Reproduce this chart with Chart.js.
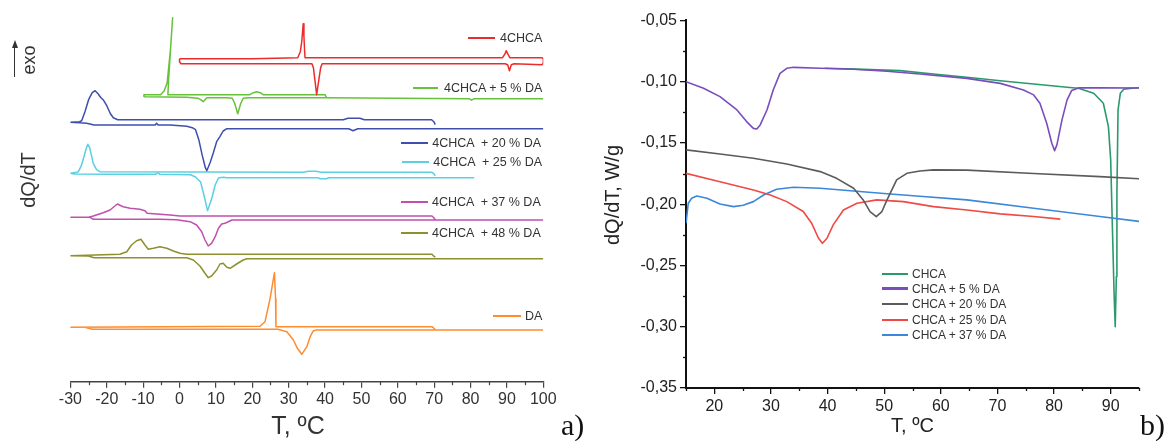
<!DOCTYPE html>
<html>
<head>
<meta charset="utf-8">
<script src="https://cdn.jsdelivr.net/npm/chart.js@4.4.1/dist/chart.umd.min.js"></script>
<style>
  html, body { margin:0; padding:0; background:#fff; }
  #wrap { position:relative; width:1168px; height:441px; overflow:hidden; font-family:"Liberation Sans", Arial, sans-serif; color:#222; }
  canvas { position:absolute; top:0; }
  #cL { left:0; }
  #cR { left:585px; }
  .t { position:absolute; white-space:pre; line-height:1; }
  .lg { position:absolute; height:2px; }
</style>
</head>
<body>
<div id="wrap">
  <canvas id="cL" width="585" height="441"></canvas>
  <canvas id="cR" width="583" height="441"></canvas>
</div>
<script>
// ---------- Panel a) : DSC loops, arbitrary units, T in °C ----------
const leftTicksT = [-30,-20,-10,0,10,20,30,40,50,60,70,80,90,100];
const leftMinorT = [-25,-15,-5,5,15,25,35,45,55,65,75,85,95];

const a4CHCA_T = [0,20,32.5,33.2,33.6,34.0,34.2,34.4,34.5,60,88.8,89.5,89.8,90.2,90.8,99.6,100,100,99.6,92,91.2,90.7,90.2,89.5,60,39.2,38.8,38.3,37.7,37.2,36.8,36.4,20,0.4,0,0];
const a4CHCA_Q = [323,323,324,330,340,358,345,330,324,324,324,328,331,328,324,324,323,318,317,318,317,311,317,318,318,318,314,302,287,302,314,318,318,318,320,323];

const a5DA_T = [100,81,80.3,79.6,40,19,17.5,16.8,16.0,15.2,14.5,13,7.5,7.0,6.5,5.8,5,2,-9.5,-9.8,-9.8,-6,-5.2,-4.2,-3.4,-2.5,-1.9,-2.3,-3.0,-3.2,10,19.3,20.3,21.2,22.2,23.0,40,40.4];
const a5DA_Q = [283,283,281.5,283,284,284,283.5,278,268,278,283.5,284,284,282,280,282,283.5,284.5,285,285.5,287,287,287,291,299,332,364,342,302,287,287,287,289,290,289,287,287,284];

const a20DA_T = [100,49,47.7,46.5,13,12.0,11.1,10.2,9.3,8.4,7.5,7.1,6.2,5.3,4.4,3.5,2.0,-2.6,-5.9,-6.3,-6.7,-23.5,-25.5,-27.5,-30,-27.5,-26.9,-26.0,-25.0,-24.0,-23.2,-22.4,-21.6,-21.0,-20.0,-19.0,-18.2,-17.0,45,46.3,49.6,50.8,69.3,69.9,70.3];
const a20DA_Q = [253,253,251,253,253,250.7,245,240,229,219,211,214,227,242,252,254,255.5,256.7,256.7,258.5,256.7,256.7,258.5,259,259.5,260,261,270,282,289,291,288,284,282,276,268,264,262,262,263.5,263.5,262,262,260,257];

const a25DA_T = [81,41,40.4,38.7,38,13,12.0,10.7,9.8,8.9,7.7,6.7,5.8,4.4,3.0,-5.5,-6.0,-6.5,-20,-29,-30,-28.2,-27.8,-27.0,-26.2,-25.6,-25.2,-24.7,-24.2,-23.7,-22.8,-21.9,34,35.5,37.5,39,69.4,69.9,70.3];
const a25DA_Q = [204,204,203,203,204,204,204.4,203.7,196.7,183.7,171,186.7,199.7,204.7,207,207.4,209.4,207.4,207.4,207.7,208.5,209.4,210,216,226,234,237.4,234,226,218,212,210,209.4,210.5,210.5,209.4,209.4,208,206];

const a37DA_T = [100,14.4,13.4,12.5,11.6,10.7,9.8,8.8,7.9,7.0,6.1,4.7,2.9,-0.8,-5.4,-23.7,-24.6,-30,-25,-23.7,-21.0,-19.1,-17.1,-15.5,-13.6,-10.9,-9.5,-8.9,-6.3,-2.6,0.1,69.4,69.9,70.3];
const a37DA_Q = [161.7,161.7,160,158.4,157.7,153.4,145,138.4,135.7,141.7,150,156.7,160,162,162.4,162.4,164.4,164.4,164.5,165.7,169,171.7,177.7,175,173.4,172.4,171,168.4,167.7,166.7,165.7,165.7,164,162];

const a48DA_T = [100,18.5,17.5,15.7,13.9,13.0,12.0,11.1,10.2,8.8,7.9,7.0,5.6,3.8,2.0,-23.5,-25,-30,-16.4,-14.5,-13.2,-11.8,-10.6,-9.5,-8.6,-7.2,-5.4,-3.5,-1.7,0.1,2.0,69.4,69.9,70.3];
const a48DA_Q = [123,123,121.7,117.7,113.4,114.4,118.4,117.7,111.7,105.7,104,108.4,115.7,121.7,124,124,125.7,126,127.4,130,136.7,141,142.4,136.7,132.4,133.4,135,133.4,130.7,128.4,127.4,127.4,125.5,124.5];

const aDA_T = [100,37.7,36.8,35.9,35.0,33.6,32.4,31.3,29.5,27,-24,-26,-30,22.1,23.5,24.9,26.1,26.4,26.5,69.4,69.9,70.3];
const aDA_Q = [51.7,51.7,51,45,35,27.4,33.4,41.7,50,52.4,52.4,54.4,54.4,55.5,60,83.4,109,83,55,55,53.5,52];

const leftLabels = ['4CHCA','4CHCA + 5 % DA','4CHCA  + 20 % DA','4CHCA  + 25 % DA','4CHCA  + 37 % DA','4CHCA  + 48 % DA','DA'];
const leftColors = ['#ec2c2c','#66c23a','#3e4fae','#5ccfe0','#c04fae','#8e8f2e','#ff8c2e'];

// ---------- Panel b) ----------
const rightTicksT = [20,30,40,50,60,70,80,90];
const rightMinorT = [15,25,35,45,55,65,75,85,95];
const rightTicksQ = [-0.35,-0.30,-0.25,-0.20,-0.15,-0.10,-0.05];
const rightMinorQ = [-0.325,-0.275,-0.225,-0.175,-0.125,-0.075];

const bCHCA_T = [39.5,45,52.8,58.7,64.6,70.5,76.4,82.3,84.3,87.0,88.7,89.6,90.0,90.3,90.6,90.8,91.0,91.1,91.3,91.7,92.3,93.4,95];
const bCHCA_Q = [-0.0890,-0.0898,-0.0910,-0.0937,-0.0964,-0.0992,-0.1019,-0.1046,-0.1054,-0.1095,-0.1176,-0.1367,-0.1639,-0.2183,-0.2726,-0.3000,-0.2591,-0.1910,-0.1231,-0.1095,-0.1062,-0.1055,-0.1050];

const b5DA_T = [15,18.1,21.0,24.0,25.7,26.9,27.5,28.1,29.3,30.4,31.6,32.8,34.0,38.7,44.6,50.5,56.3,64.6,70.5,74.6,76.4,77.5,78.7,79.6,80.1,80.5,81.4,82.3,83.1,84.3,88.1,95];
const b5DA_Q = [-0.1000,-0.1054,-0.1122,-0.1231,-0.1326,-0.1381,-0.1386,-0.1353,-0.1231,-0.1068,-0.0932,-0.0891,-0.0883,-0.0891,-0.0899,-0.0915,-0.0937,-0.0973,-0.1014,-0.1068,-0.1108,-0.1176,-0.1339,-0.1503,-0.1563,-0.1516,-0.1312,-0.1149,-0.1073,-0.1051,-0.1051,-0.1052];

const b20DA_T = [15,21.0,26.9,32.8,38.7,41.6,44.6,46.3,47.5,48.6,49.6,50.5,52.2,54.0,56.3,58.7,64.6,76.4,88.1,95];
const b20DA_Q = [-0.1557,-0.1590,-0.1625,-0.1672,-0.1734,-0.1789,-0.1870,-0.1965,-0.2060,-0.2101,-0.2060,-0.1965,-0.1802,-0.1748,-0.1729,-0.1720,-0.1722,-0.1750,-0.1775,-0.1792];

const b25DA_T = [15,21.0,26.9,29.9,32.8,35.7,37.2,38.4,39.1,39.9,41.0,42.8,45.2,48.7,53.4,58.7,64.6,70.5,76.4,81.1];
const b25DA_Q = [-0.1748,-0.1816,-0.1884,-0.1925,-0.1979,-0.2060,-0.2156,-0.2278,-0.2319,-0.2278,-0.2169,-0.2047,-0.1992,-0.1965,-0.1979,-0.2020,-0.2047,-0.2079,-0.2101,-0.2122];

const b37DA_T = [15,15.4,16.0,16.9,18.7,21.0,23.4,25.1,26.9,28.7,31.0,34.0,38.7,44.6,50.5,56.3,64.6,76.4,88.1,95];
const b37DA_Q = [-0.2156,-0.1992,-0.1952,-0.1933,-0.1952,-0.1998,-0.2020,-0.2009,-0.1979,-0.1925,-0.1878,-0.1862,-0.1870,-0.1892,-0.1915,-0.1935,-0.1965,-0.2033,-0.2101,-0.2140];

const rightLabels = ['CHCA','CHCA + 5 % DA','CHCA + 20 % DA','CHCA + 25 % DA','CHCA + 37 % DA'];
const rightColors = ['#2a9a6a','#7a4dbd','#5b5b5b','#ef4a45','#3d87db'];

// ---------- helpers ----------
const pts = (T, Q) => T.map((t, i) => ({x: t, y: Q[i]}));
const lineDs = (T, Q, color, w) => ({data: pts(T, Q), showLine: true, borderColor: color, backgroundColor: color,
  borderWidth: w, pointRadius: 0, pointHoverRadius: 0, tension: 0, fill: false, borderJoinStyle: 'round'});

const minorTicks = {
  id: 'minorTicks',
  afterDraw(chart, args, o) {
    const ctx = chart.ctx, xs = chart.scales.x, ys = chart.scales.y;
    ctx.save(); ctx.strokeStyle = o.color; ctx.lineWidth = o.width;
    (o.x || []).forEach(v => { const p = Math.round(xs.getPixelForValue(v)) + 0.5;
      ctx.beginPath(); ctx.moveTo(p, xs.top); ctx.lineTo(p, xs.top + o.len); ctx.stroke(); });
    (o.y || []).forEach(v => { const p = Math.round(ys.getPixelForValue(v)) + 0.5;
      ctx.beginPath(); ctx.moveTo(ys.right, p); ctx.lineTo(ys.right - o.len, p); ctx.stroke(); });
    ctx.restore();
  }
};
const FONT = '"Liberation Sans", Arial, sans-serif';

// ---------- left chart ----------
new Chart(document.getElementById('cL'), {
  type: 'scatter',
  data: { datasets: [
    lineDs(a4CHCA_T, a4CHCA_Q, leftColors[0], 1.5),
    lineDs(a5DA_T, a5DA_Q, leftColors[1], 1.5),
    lineDs(a20DA_T, a20DA_Q, leftColors[2], 1.5),
    lineDs(a25DA_T, a25DA_Q, leftColors[3], 1.5),
    lineDs(a37DA_T, a37DA_Q, leftColors[4], 1.5),
    lineDs(a48DA_T, a48DA_Q, leftColors[5], 1.5),
    lineDs(aDA_T, aDA_Q, leftColors[6], 1.5)
  ]},
  options: {
    responsive: false, animation: false, devicePixelRatio: 1,
    layout: { padding: { left: 70.4, right: 41.7, top: 11.7, bottom: 0 } },
    plugins: { legend: { display: false }, tooltip: { enabled: false },
      minorTicks: { x: leftMinorT, len: 3.5, color: '#444', width: 1.2 } },
    scales: {
      x: { type: 'linear', min: -30, max: 100,
        afterBuildTicks: s => { s.ticks = leftTicksT.map(v => ({value: v})); },
        afterFit: s => { s.height = 441 - 381.7; },
        grid: { drawOnChartArea: false, drawTicks: true, tickLength: 6, color: '#444', lineWidth: 1.2 },
        border: { display: true, color: '#444', width: 1.5 },
        ticks: { autoSkip: false, maxRotation: 0, padding: 2, color: '#333', font: { family: FONT, size: 16 }, callback: v => String(v) },
        title: { display: false } },
      y: { type: 'linear', min: 0, max: 370, display: false }
    }
  },
  plugins: [minorTicks]
});

// ---------- right chart ----------
new Chart(document.getElementById('cR'), {
  type: 'scatter',
  data: { datasets: [
    lineDs(b20DA_T, b20DA_Q, rightColors[2], 1.6),
    lineDs(b25DA_T, b25DA_Q, rightColors[3], 1.6),
    lineDs(b37DA_T, b37DA_Q, rightColors[4], 1.6),
    lineDs(b5DA_T, b5DA_Q, rightColors[1], 1.6),
    lineDs(bCHCA_T, bCHCA_Q, rightColors[0], 1.6)
  ]},
  options: {
    responsive: false, animation: false, devicePixelRatio: 1,
    layout: { padding: { left: 0, right: 29, top: 20.4, bottom: 0 } },
    plugins: { legend: { display: false }, tooltip: { enabled: false },
      minorTicks: { x: rightMinorT, y: rightMinorQ, len: 3, color: '#111', width: 1.3 } },
    scales: {
      x: { type: 'linear', min: 15, max: 95,
        afterBuildTicks: s => { s.ticks = rightTicksT.map(v => ({value: v})); },
        afterFit: s => { s.height = 441 - 388; },
        grid: { drawOnChartArea: false, drawTicks: true, tickLength: 6, color: '#111', lineWidth: 1.3 },
        border: { display: true, color: '#111', width: 2 },
        ticks: { autoSkip: false, maxRotation: 0, padding: 3, color: '#222', font: { family: FONT, size: 16 }, callback: v => String(v) },
        title: { display: true, text: 'T, ºC', color: '#222', font: { family: FONT, size: 20 }, padding: { top: 0, bottom: 3 } } },
      y: { type: 'linear', min: -0.35, max: -0.05,
        afterBuildTicks: s => { s.ticks = rightTicksQ.map(v => ({value: v})); },
        afterFit: s => { s.width = 101; },
        grid: { drawOnChartArea: false, drawTicks: true, tickLength: 6, color: '#111', lineWidth: 1.3 },
        border: { display: true, color: '#111', width: 2 },
        ticks: { autoSkip: false, padding: 3, color: '#222', font: { family: FONT, size: 16 }, callback: v => v.toFixed(2).replace('.', ',') },
        title: { display: false } }
    }
  },
  plugins: [minorTicks]
});

// ---------- annotations / legends (HTML text) ----------
const wrap = document.getElementById('wrap');
function addText(txt, x, y, size, opts = {}) {
  const d = document.createElement('div');
  d.className = 't';
  d.textContent = txt;
  d.style.fontSize = size + 'px';
  if (opts.family) d.style.fontFamily = opts.family;
  if (opts.color) d.style.color = opts.color;
  d.style.left = x + 'px'; d.style.top = y + 'px';
  d.style.transform = opts.rot ? 'translate(-50%,-50%) rotate(-90deg)' : (opts.center ? 'translate(-50%,-50%)' : 'translateY(-50%)');
  wrap.appendChild(d);
  return d;
}
function addLine(x1, x2, y, color, h) {
  const d = document.createElement('div');
  d.className = 'lg';
  d.style.left = x1 + 'px'; d.style.width = (x2 - x1) + 'px';
  d.style.top = (y - h / 2) + 'px'; d.style.height = h + 'px';
  d.style.background = color;
  wrap.appendChild(d);
}
// left legend entries placed beside each loop
const leftLegPos = [[468,495,38.3,500],[412.7,438.3,88.3,444],[400.7,428.3,142.7,432.3],[401.7,429.3,161.7,433.3],[401,428.3,201.7,432],[400.7,428.3,233.3,432],[493.3,520.7,316,525]];
leftLabels.forEach((lab, i) => {
  const p = leftLegPos[i];
  addLine(p[0], p[1], p[2], leftColors[i], 2);
  addText(lab, p[3], p[2], 12.5, { color: '#333' });
});
// right legend
rightLabels.forEach((lab, i) => {
  const y = 273.5 + i * 15.4;
  addLine(882, 908, y, rightColors[i], i === 1 ? 3 : 2);
  addText(lab, 912, y, 12, { color: '#333' });
});
// axis titles drawn as text
addText('T, ºC', 298, 425, 25, { center: true, color: '#333' });
addText('dQ/dT, W/g', 612, 195, 20, { rot: true, color: '#222' });
addText('dQ/dT', 28, 180, 20, { rot: true, color: '#333' });
addText('exo', 29, 60, 18, { rot: true, color: '#333' });
const ar = document.createElement('div');
ar.style.cssText = 'position:absolute;left:14px;top:46px;width:1.3px;height:31px;background:#333;';
wrap.appendChild(ar);
const ah = document.createElement('div');
ah.style.cssText = 'position:absolute;left:11.6px;top:40px;width:0;height:0;border-left:3px solid transparent;border-right:3px solid transparent;border-bottom:8px solid #333;';
wrap.appendChild(ah);
// panel letters
addText('a)', 561, 425, 30, { family: '"Liberation Serif", "Times New Roman", serif', color: '#111' });
addText('b)', 1140, 425, 30, { family: '"Liberation Serif", "Times New Roman", serif', color: '#111' });
</script>
</body>
</html>
